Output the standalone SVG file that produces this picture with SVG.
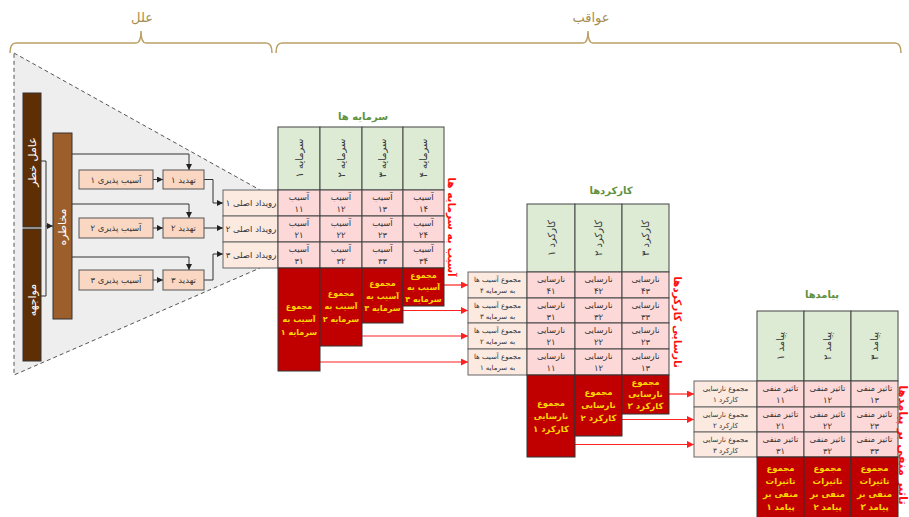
<svg xmlns="http://www.w3.org/2000/svg" width="909" height="517" viewBox="0 0 909 517">
<defs>
<style>
text{font-family:"DejaVu Sans","Noto Sans",sans-serif;text-anchor:middle}
.brace{fill:none;stroke:#BBA067;stroke-width:1.5}
.ttl{font-size:13px;fill:#A88E4E}
.pe{fill:#F9D7C2;stroke:#555;stroke-width:1}
.pl{fill:#FCE9DF;stroke:#666;stroke-width:1}
.gr{fill:#DDEBD5;stroke:#444;stroke-width:1}
.pk{fill:#FDD8D8;stroke:#444;stroke-width:1}
.rd{fill:#C00000;stroke:#333;stroke-width:1}
.t{font-size:8.5px;fill:#333}
.ts{font-size:7px;fill:#333}
.th{font-size:10px;fill:#333}
.y{font-size:8px;font-weight:bold;fill:#FFD700}
.y2{font-size:8.5px;font-weight:bold;fill:#FFD700}
.w{font-size:11px;fill:#fff}
.g{font-size:10px;font-weight:bold;fill:#5E9140}
.r{font-size:10.5px;font-weight:bold;fill:#FF1010}
.ln{fill:none;stroke:#333;stroke-width:1}
.rl{fill:none;stroke:#FF2020;stroke-width:1.2}
</style>
<marker id="ab" markerWidth="6" markerHeight="6" refX="6" refY="3" orient="auto" markerUnits="userSpaceOnUse"><path d="M0,0 L6,3 L0,6 z" fill="#222"/></marker>
<marker id="ar" markerWidth="7" markerHeight="7" refX="7" refY="3.5" orient="auto" markerUnits="userSpaceOnUse"><path d="M0,0 L7,3.5 L0,7 z" fill="#FF2020"/></marker>
</defs>
<rect width="909" height="517" fill="#fff"/>

<g id="braces">
<path class="brace" d="M10,53 Q10,43 16,43 H136 Q141,43 141,31 Q141,43 146,43 H266 Q272,43 272,53"/>
<path class="brace" d="M276,53 Q276,43 282,43 H583 Q588,43 588,31 Q588,43 593,43 H895 Q901,43 901,53"/>
<text class="ttl" x="142" y="22">علل</text>
<text class="ttl" x="591" y="22">عواقب</text>
</g>

<g id="triangle">
<polygon points="14,53 260,190 260,268 14,375" fill="#EEEEEE" stroke="#555" stroke-width="1" stroke-dasharray="4,3"/>
</g>

<g id="connectors">
<path class="ln" d="M41,161 H46 V296 H41"/>
<path class="ln" d="M46,226 H53" marker-end="url(#ab)"/>
<path class="ln" d="M72,154 H189 V170" marker-end="url(#ab)"/>
<path class="ln" d="M72,204 H189 V218" marker-end="url(#ab)"/>
<path class="ln" d="M72,257 H189 V270" marker-end="url(#ab)"/>
<path class="ln" d="M153,179.5 H163" marker-end="url(#ab)"/>
<path class="ln" d="M153,228 H163" marker-end="url(#ab)"/>
<path class="ln" d="M153,280 H163" marker-end="url(#ab)"/>
<path class="ln" d="M204,179.5 H213 V203 H223" marker-end="url(#ab)"/>
<path class="ln" d="M204,228 H223" marker-end="url(#ab)"/>
<path class="ln" d="M204,280 H213 V254 H223" marker-end="url(#ab)"/>
<path class="rl" d="M444,285 H468" marker-end="url(#ar)"/>
<path class="rl" d="M403,310.5 H468" marker-end="url(#ar)"/>
<path class="rl" d="M362,336 H468" marker-end="url(#ar)"/>
<path class="rl" d="M320,362 H468" marker-end="url(#ar)"/>
<path class="rl" d="M669,394 H694" marker-end="url(#ar)"/>
<path class="rl" d="M622,419.5 H694" marker-end="url(#ar)"/>
<path class="rl" d="M575,444.5 H694" marker-end="url(#ar)"/>
</g>

<g id="risk-factor"><rect x="23" y="93" width="18" height="134" fill="#5E2F05" stroke="#333"/><text class="w" transform="translate(32,162) rotate(-90)" dy="0.35em">عامل خطر</text></g>
<g id="exposure"><rect x="23" y="229" width="18" height="132" fill="#5E2F05" stroke="#333"/><text class="w" transform="translate(32,300) rotate(-90)" dy="0.35em">مواجهه</text></g>
<g id="hazard"><rect x="53" y="133" width="19" height="186" fill="#9C5F2B" stroke="#333"/><text class="w" transform="translate(62.5,227) rotate(-90)" dy="0.35em">مخاطره</text></g>

<g id="vuln1"><rect class="pe" x="79" y="170" width="74" height="19"/><text class="t" x="116" y="182.5">آسیب پذیری ۱</text></g>
<g id="vuln2"><rect class="pe" x="79" y="218" width="74" height="20"/><text class="t" x="116" y="231">آسیب پذیری ۲</text></g>
<g id="vuln3"><rect class="pe" x="79" y="270" width="74" height="20"/><text class="t" x="116" y="283">آسیب پذیری ۳</text></g>
<g id="threat1"><rect class="pe" x="163" y="170" width="41" height="19"/><text class="t" x="183.5" y="182.5">تهدید ۱</text></g>
<g id="threat2"><rect class="pe" x="163" y="218" width="41" height="20"/><text class="t" x="183.5" y="231">تهدید ۲</text></g>
<g id="threat3"><rect class="pe" x="163" y="270" width="41" height="20"/><text class="t" x="183.5" y="283">تهدید ۳</text></g>

<g id="event1"><rect class="pl" x="223" y="190" width="55" height="26"/><text class="t" x="251" y="206">رویداد اصلی ۱</text></g>
<g id="event2"><rect class="pl" x="223" y="216" width="55" height="26"/><text class="t" x="251" y="232">رویداد اصلی ۲</text></g>
<g id="event3"><rect class="pl" x="223" y="242" width="55" height="26"/><text class="t" x="251" y="258">رویداد اصلی ۳</text></g>

<g id="assets">
<text class="g" x="363" y="120">سرمایه ها</text>
<rect class="gr" x="278" y="127" width="42" height="63"/><text class="th" transform="translate(299,158) rotate(-90)" dy="0.35em">سرمایه ۱</text>
<rect class="gr" x="320" y="127" width="42" height="63"/><text class="th" transform="translate(341,158) rotate(-90)" dy="0.35em">سرمایه ۲</text>
<rect class="gr" x="362" y="127" width="41" height="63"/><text class="th" transform="translate(382.5,158) rotate(-90)" dy="0.35em">سرمایه ۳</text>
<rect class="gr" x="403" y="127" width="41" height="63"/><text class="th" transform="translate(423.5,158) rotate(-90)" dy="0.35em">سرمایه ۴</text>
<rect class="pk" x="278" y="190" width="42" height="26"/><text class="t" x="299" y="200">آسیب</text><text class="t" x="299" y="212">۱۱</text>
<rect class="pk" x="320" y="190" width="42" height="26"/><text class="t" x="341" y="200">آسیب</text><text class="t" x="341" y="212">۱۲</text>
<rect class="pk" x="362" y="190" width="41" height="26"/><text class="t" x="382.5" y="200">آسیب</text><text class="t" x="382.5" y="212">۱۳</text>
<rect class="pk" x="403" y="190" width="41" height="26"/><text class="t" x="423.5" y="200">آسیب</text><text class="t" x="423.5" y="212">۱۴</text>
<rect class="pk" x="278" y="216" width="42" height="26"/><text class="t" x="299" y="226">آسیب</text><text class="t" x="299" y="238">۲۱</text>
<rect class="pk" x="320" y="216" width="42" height="26"/><text class="t" x="341" y="226">آسیب</text><text class="t" x="341" y="238">۲۲</text>
<rect class="pk" x="362" y="216" width="41" height="26"/><text class="t" x="382.5" y="226">آسیب</text><text class="t" x="382.5" y="238">۲۳</text>
<rect class="pk" x="403" y="216" width="41" height="26"/><text class="t" x="423.5" y="226">آسیب</text><text class="t" x="423.5" y="238">۲۴</text>
<rect class="pk" x="278" y="242" width="42" height="26"/><text class="t" x="299" y="252">آسیب</text><text class="t" x="299" y="264">۳۱</text>
<rect class="pk" x="320" y="242" width="42" height="26"/><text class="t" x="341" y="252">آسیب</text><text class="t" x="341" y="264">۳۲</text>
<rect class="pk" x="362" y="242" width="41" height="26"/><text class="t" x="382.5" y="252">آسیب</text><text class="t" x="382.5" y="264">۳۳</text>
<rect class="pk" x="403" y="242" width="41" height="26"/><text class="t" x="423.5" y="252">آسیب</text><text class="t" x="423.5" y="264">۳۴</text>
<text class="r" transform="translate(452,227) rotate(90)" dy="0.35em">آسیب به سرمایه ها</text>
</g>

<g id="asset-sum1"><rect class="rd" x="278" y="268" width="42" height="103"/><text class="y" x="299" y="309">مجموع</text><text class="y" x="299" y="322">آسیب به</text><text class="y" x="299" y="335">سرمایه ۱</text></g>
<g id="asset-sum2"><rect class="rd" x="320" y="268" width="42" height="78"/><text class="y" x="341" y="296">مجموع</text><text class="y" x="341" y="309">آسیب به</text><text class="y" x="341" y="322">سرمایه ۲</text></g>
<g id="asset-sum3"><rect class="rd" x="362" y="268" width="41" height="55"/><text class="y" x="382.5" y="286">مجموع</text><text class="y" x="382.5" y="298.5">آسیب به</text><text class="y" x="382.5" y="311">سرمایه ۳</text></g>
<g id="asset-sum4"><rect class="rd" x="403" y="268" width="41" height="38"/><text class="y" x="423.5" y="277.5">مجموع</text><text class="y" x="423.5" y="289.5">آسیب به</text><text class="y" x="423.5" y="301.5">سرمایه ۴</text></g>

<g id="damage-in4"><rect class="pl" x="468" y="272" width="59" height="26"/><text class="ts" x="497.5" y="282">مجموع آسیب ها</text><text class="ts" x="497.5" y="293">به سرمایه ۴</text></g>
<g id="damage-in3"><rect class="pl" x="468" y="298" width="59" height="25"/><text class="ts" x="497.5" y="308">مجموع آسیب ها</text><text class="ts" x="497.5" y="319">به سرمایه ۳</text></g>
<g id="damage-in2"><rect class="pl" x="468" y="323" width="59" height="26"/><text class="ts" x="497.5" y="333">مجموع آسیب ها</text><text class="ts" x="497.5" y="344">به سرمایه ۲</text></g>
<g id="damage-in1"><rect class="pl" x="468" y="349" width="59" height="26"/><text class="ts" x="497.5" y="359">مجموع آسیب ها</text><text class="ts" x="497.5" y="370">به سرمایه ۱</text></g>

<g id="functions">
<text class="g" x="611" y="194">کارکردها</text>
<rect class="gr" x="527" y="204" width="48" height="68"/><text class="th" transform="translate(551,238) rotate(-90)" dy="0.35em">کارکرد ۱</text>
<rect class="gr" x="575" y="204" width="47" height="68"/><text class="th" transform="translate(598.5,238) rotate(-90)" dy="0.35em">کارکرد ۲</text>
<rect class="gr" x="622" y="204" width="47" height="68"/><text class="th" transform="translate(645.5,238) rotate(-90)" dy="0.35em">کارکرد ۳</text>
<rect class="pk" x="527" y="272" width="48" height="26"/><text class="t" x="551" y="282">نارسایی</text><text class="t" x="551" y="294">۴۱</text>
<rect class="pk" x="575" y="272" width="47" height="26"/><text class="t" x="598.5" y="282">نارسایی</text><text class="t" x="598.5" y="294">۴۲</text>
<rect class="pk" x="622" y="272" width="47" height="26"/><text class="t" x="645.5" y="282">نارسایی</text><text class="t" x="645.5" y="294">۴۳</text>
<rect class="pk" x="527" y="298" width="48" height="25"/><text class="t" x="551" y="308">نارسایی</text><text class="t" x="551" y="320">۳۱</text>
<rect class="pk" x="575" y="298" width="47" height="25"/><text class="t" x="598.5" y="308">نارسایی</text><text class="t" x="598.5" y="320">۳۲</text>
<rect class="pk" x="622" y="298" width="47" height="25"/><text class="t" x="645.5" y="308">نارسایی</text><text class="t" x="645.5" y="320">۳۳</text>
<rect class="pk" x="527" y="323" width="48" height="26"/><text class="t" x="551" y="333">نارسایی</text><text class="t" x="551" y="345">۲۱</text>
<rect class="pk" x="575" y="323" width="47" height="26"/><text class="t" x="598.5" y="333">نارسایی</text><text class="t" x="598.5" y="345">۲۲</text>
<rect class="pk" x="622" y="323" width="47" height="26"/><text class="t" x="645.5" y="333">نارسایی</text><text class="t" x="645.5" y="345">۲۳</text>
<rect class="pk" x="527" y="349" width="48" height="26"/><text class="t" x="551" y="359">نارسایی</text><text class="t" x="551" y="371">۱۱</text>
<rect class="pk" x="575" y="349" width="47" height="26"/><text class="t" x="598.5" y="359">نارسایی</text><text class="t" x="598.5" y="371">۱۲</text>
<rect class="pk" x="622" y="349" width="47" height="26"/><text class="t" x="645.5" y="359">نارسایی</text><text class="t" x="645.5" y="371">۱۳</text>
<text class="r" transform="translate(678,322) rotate(90)" dy="0.35em">نارسایی کارکردها</text>
</g>

<g id="func-sum1"><rect class="rd" x="527" y="375" width="48" height="82"/><text class="y2" x="551" y="406">مجموع</text><text class="y2" x="551" y="419">نارسایی</text><text class="y2" x="551" y="432">کارکرد ۱</text></g>
<g id="func-sum2"><rect class="rd" x="575" y="375" width="47" height="61"/><text class="y2" x="598.5" y="395">مجموع</text><text class="y2" x="598.5" y="408">نارسایی</text><text class="y2" x="598.5" y="421">کارکرد ۲</text></g>
<g id="func-sum3"><rect class="rd" x="622" y="375" width="47" height="39"/><text class="y2" x="645.5" y="384.5">مجموع</text><text class="y2" x="645.5" y="396.5">نارسایی</text><text class="y2" x="645.5" y="408.5">کارکرد ۳</text></g>

<g id="fail-in1"><rect class="pl" x="694" y="381" width="63" height="26"/><text class="ts" x="725.5" y="391">مجموع نارسایی</text><text class="ts" x="725.5" y="402">کارکرد ۱</text></g>
<g id="fail-in2"><rect class="pl" x="694" y="407" width="63" height="25"/><text class="ts" x="725.5" y="417">مجموع نارسایی</text><text class="ts" x="725.5" y="428">کارکرد ۲</text></g>
<g id="fail-in3"><rect class="pl" x="694" y="432" width="63" height="25"/><text class="ts" x="725.5" y="442">مجموع نارسایی</text><text class="ts" x="725.5" y="453">کارکرد ۳</text></g>

<g id="outcomes">
<text class="g" x="822" y="298">پیامدها</text>
<rect class="gr" x="757" y="311" width="47" height="70"/><text class="th" transform="translate(780.5,346) rotate(-90)" dy="0.35em">پیامد ۱</text>
<rect class="gr" x="804" y="311" width="47" height="70"/><text class="th" transform="translate(827.5,346) rotate(-90)" dy="0.35em">پیامد ۲</text>
<rect class="gr" x="851" y="311" width="47" height="70"/><text class="th" transform="translate(874.5,346) rotate(-90)" dy="0.35em">پیامد ۳</text>
<rect class="pk" x="757" y="381" width="47" height="26"/><text class="t" x="780.5" y="391">تاثیر منفی</text><text class="t" x="780.5" y="403">۱۱</text>
<rect class="pk" x="804" y="381" width="47" height="26"/><text class="t" x="827.5" y="391">تاثیر منفی</text><text class="t" x="827.5" y="403">۱۲</text>
<rect class="pk" x="851" y="381" width="47" height="26"/><text class="t" x="874.5" y="391">تاثیر منفی</text><text class="t" x="874.5" y="403">۱۳</text>
<rect class="pk" x="757" y="407" width="47" height="25"/><text class="t" x="780.5" y="417">تاثیر منفی</text><text class="t" x="780.5" y="429">۲۱</text>
<rect class="pk" x="804" y="407" width="47" height="25"/><text class="t" x="827.5" y="417">تاثیر منفی</text><text class="t" x="827.5" y="429">۲۲</text>
<rect class="pk" x="851" y="407" width="47" height="25"/><text class="t" x="874.5" y="417">تاثیر منفی</text><text class="t" x="874.5" y="429">۲۳</text>
<rect class="pk" x="757" y="432" width="47" height="25"/><text class="t" x="780.5" y="442">تاثیر منفی</text><text class="t" x="780.5" y="454">۳۱</text>
<rect class="pk" x="804" y="432" width="47" height="25"/><text class="t" x="827.5" y="442">تاثیر منفی</text><text class="t" x="827.5" y="454">۳۲</text>
<rect class="pk" x="851" y="432" width="47" height="25"/><text class="t" x="874.5" y="442">تاثیر منفی</text><text class="t" x="874.5" y="454">۳۳</text>
<text class="r" transform="translate(903,445) rotate(90)" dy="0.35em" style="font-size:11.5px">تاثیر منفی بر پیامدها</text>
</g>

<g id="out-sum1"><rect class="rd" x="757" y="457" width="47" height="65"/><text class="y2" x="780.5" y="471">مجموع</text><text class="y2" x="780.5" y="484">تاثیرات</text><text class="y2" x="780.5" y="497">منفی بر</text><text class="y2" x="780.5" y="510">پیامد ۱</text></g>
<g id="out-sum2"><rect class="rd" x="804" y="457" width="47" height="65"/><text class="y2" x="827.5" y="471">مجموع</text><text class="y2" x="827.5" y="484">تاثیرات</text><text class="y2" x="827.5" y="497">منفی بر</text><text class="y2" x="827.5" y="510">پیامد ۲</text></g>
<g id="out-sum3"><rect class="rd" x="851" y="457" width="47" height="65"/><text class="y2" x="874.5" y="471">مجموع</text><text class="y2" x="874.5" y="484">تاثیرات</text><text class="y2" x="874.5" y="497">منفی بر</text><text class="y2" x="874.5" y="510">پیامد ۳</text></g>
</svg>
